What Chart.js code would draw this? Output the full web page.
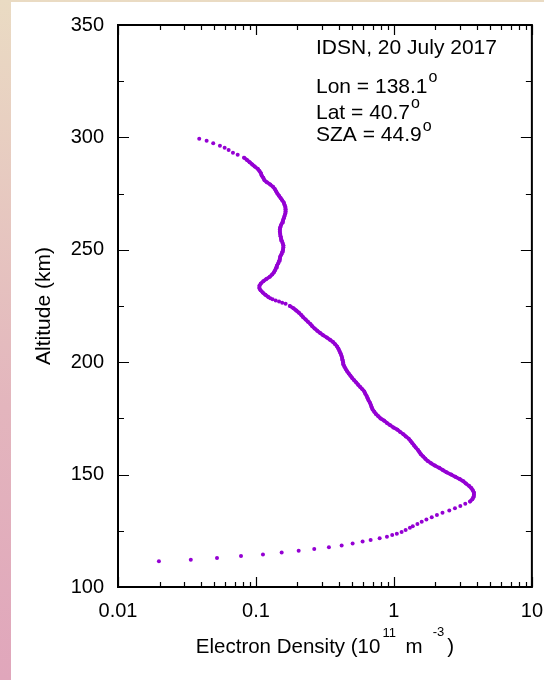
<!DOCTYPE html>
<html>
<head>
<meta charset="utf-8">
<title>Electron density profile</title>
<script src="https://cdn.jsdelivr.net/npm/chart.js@4.4.1/dist/chart.umd.min.js"></script>
<style>
  html, body { margin: 0; padding: 0; }
  body {
    width: 544px; height: 680px; overflow: hidden;
    background: linear-gradient(to bottom, #eadbc3 0%, #e3b5bd 60%, #e0a6bb 100%);
  }
  #panel {
    position: absolute; left: 11px; top: 2px;
    width: 533px; height: 678px; background: #fff;
  }
</style>
</head>
<body>
<div id="panel"><canvas id="profile"></canvas></div>
<script>
// altitude of each sample (km)
const altitudeKm = [
  111.4, 112.1, 112.9, 113.8, 114.5, 115.4, 116.1, 116.9, 117.7, 118.5,
  119.3, 120.2, 120.9, 121.7, 122.4, 123.1, 123.7, 124.5, 125.4, 126.4,
  127, 128, 129, 130, 131, 132, 133, 134, 135, 136, 137, 138, 139, 140,
  141, 142, 143, 144, 145, 146, 147, 148, 149, 150, 151, 152, 153, 154,
  155, 156, 157, 158, 159, 160, 161, 162, 163, 164, 165, 166, 167, 168,
  169, 170, 171, 172, 173, 174, 175, 176, 177, 178, 179, 180, 181, 182,
  183, 184, 185, 186, 187, 188, 189, 190, 191, 192, 193, 194, 195, 196,
  197, 198, 199, 200, 201, 202, 203, 204, 205, 206, 207, 208, 209, 210,
  211, 212, 213, 214, 215, 216, 217, 218, 219, 220, 221, 222, 223, 224,
  225, 226, 226.5, 227, 227.5, 228, 228.5, 229, 230, 231, 232, 233, 234,
  235, 236, 237, 238, 239, 240, 241, 242, 243, 244, 245, 246, 247, 248,
  249, 250, 251, 252, 253, 254, 255, 256, 257, 258, 259, 260, 261, 262,
  263, 264, 265, 266, 267, 268, 269, 270, 271, 272, 273, 274, 275, 276,
  277, 278, 279, 280, 281, 282, 283, 284, 285, 286, 287, 288, 289, 290,
  291, 292.3, 293.2, 294.4, 295.4, 296.3, 297.4, 298.5, 299.4
];

// electron density at each altitude (10^11 m^-3)
const densityE11 = [
  0.0198, 0.0337, 0.0522, 0.0779, 0.1124, 0.1536, 0.204, 0.2646, 0.338, 0.418,
  0.502, 0.593, 0.678, 0.788, 0.890, 0.972, 1.05, 1.137, 1.216, 1.306,
  1.37, 1.48, 1.59, 1.72, 1.88, 2.05, 2.25, 2.52, 2.77, 3.03, 3.29, 3.56, 3.70, 3.77,
  3.80, 3.80, 3.73, 3.64, 3.50, 3.33, 3.19, 3.00, 2.79, 2.60, 2.41, 2.26, 2.13, 1.98,
  1.86, 1.76, 1.69, 1.63, 1.57, 1.53, 1.49, 1.44, 1.40, 1.36, 1.32, 1.28, 1.22, 1.17,
  1.11, 1.06, 0.99, 0.94, 0.89, 0.85, 0.80, 0.77, 0.74, 0.72, 0.70, 0.69, 0.68, 0.67,
  0.655, 0.645, 0.634, 0.62, 0.61, 0.59, 0.57, 0.55, 0.533, 0.515, 0.498, 0.484, 0.47, 0.458,
  0.447, 0.438, 0.431, 0.428, 0.425, 0.421, 0.416, 0.41, 0.403, 0.396, 0.387, 0.375, 0.362, 0.344,
  0.326, 0.307, 0.292, 0.278, 0.266, 0.256, 0.248, 0.238, 0.229, 0.220, 0.213, 0.205, 0.196, 0.187,
  0.176, 0.164, 0.155, 0.147, 0.139, 0.132, 0.127, 0.123, 0.117, 0.112, 0.108, 0.1058, 0.1060,
  0.1085, 0.113, 0.119, 0.126, 0.131, 0.135, 0.138, 0.140, 0.142, 0.145, 0.147, 0.149, 0.150, 0.153,
  0.155, 0.157, 0.158, 0.158, 0.156, 0.154, 0.152, 0.151, 0.150, 0.149, 0.149, 0.150, 0.152, 0.155,
  0.157, 0.159, 0.161, 0.163, 0.164, 0.164, 0.163, 0.161, 0.159, 0.155, 0.151, 0.147, 0.143, 0.140,
  0.137, 0.133, 0.127, 0.120, 0.115, 0.113, 0.110, 0.1087, 0.106, 0.103, 0.098, 0.094, 0.090, 0.086,
  0.082, 0.0737, 0.0681, 0.0634, 0.0593, 0.0548, 0.049, 0.0439, 0.0388
];

// altitude spans where the samples run together into a solid trace (km)
const solidSpans = [[137.5, 225.5], [229, 291.5]];

// axis ticks
const xMajorTicks = [0.01, 0.1, 1, 10];
const yMajorTicks = [100, 150, 200, 250, 300, 350];
const yMinorTicks = [125, 175, 225, 275, 325];

// info box lines: [text, superscript]
const infoTitle = 'IDSN, 20 July 2017';
const infoLines = [['Lon = 138.1', 'o'], ['Lat = 40.7', 'o'], ['SZA = 44.9', 'o']];
const infoBaselines = [29, 67.5, 93.5, 116];

const FONT = '"Liberation Sans", Arial, Helvetica, sans-serif';
const DOT = '#9400d3';

Chart.defaults.font.family = FONT;
Chart.defaults.color = '#000';

// x minor ticks: 2..9 in each decade
const xMinorTicks = [];
for (let i = 0; i < xMajorTicks.length - 1; i++) {
  for (let k = 2; k <= 9; k++) xMinorTicks.push(xMajorTicks[i] * k);
}

const points = altitudeKm.map((h, i) => ({ x: densityE11[i], y: h }));
// one trace per solid span; gaps between spans break the line
const tracePoints = [];
solidSpans.forEach((sp, j) => {
  if (j > 0) tracePoints.push({ x: null, y: null });
  points.forEach(p => { if (p.y >= sp[0] && p.y <= sp[1]) tracePoints.push(p); });
});

// text with raised small parts
function drawRich(ctx, parts, x, baseline, align) {
  const widths = parts.map(p => {
    ctx.font = p.size + 'px ' + FONT;
    return ctx.measureText(p.t).width + (p.gap || 0);
  });
  const total = widths.reduce((s, w) => s + w, 0);
  let cx = align === 'center' ? x - total / 2 : x;
  parts.forEach((p, i) => {
    ctx.font = p.size + 'px ' + FONT;
    ctx.fillText(p.t, cx + (p.gap || 0), baseline - (p.rise || 0));
    cx += widths[i];
  });
}

const frameTicks = {
  id: 'frameTicks',
  afterDatasetsDraw(chart) {
    const { ctx, chartArea: a, scales: { x, y } } = chart;
    ctx.save();
    ctx.strokeStyle = '#000';
    ctx.lineWidth = 1.2;
    ctx.beginPath();
    const yTick = (v, len) => {
      const py = Math.round(y.getPixelForValue(v)) + 0.5;
      ctx.moveTo(a.left, py); ctx.lineTo(a.left + len, py);
      ctx.moveTo(a.right, py); ctx.lineTo(a.right - len, py);
    };
    const xTick = (v, len) => {
      const px = Math.round(x.getPixelForValue(v)) + 0.5;
      ctx.moveTo(px, a.bottom); ctx.lineTo(px, a.bottom - len);
      ctx.moveTo(px, a.top); ctx.lineTo(px, a.top + len);
    };
    yMajorTicks.forEach(v => yTick(v, 11));
    yMinorTicks.forEach(v => yTick(v, 6));
    xMajorTicks.forEach(v => xTick(v, 10));
    xMinorTicks.forEach(v => xTick(v, 5));
    ctx.stroke();

    ctx.lineWidth = 2;
    ctx.strokeRect(a.left, a.top, a.right - a.left, a.bottom - a.top);

    // info box
    ctx.fillStyle = '#000';
    ctx.textBaseline = 'alphabetic';
    const tx = a.left + 198;
    drawRich(ctx, [{ t: infoTitle, size: 21 }], tx, a.top + infoBaselines[0], 'left');
    infoLines.forEach((ln, i) => {
      drawRich(ctx, [
        { t: ln[0], size: 21 },
        { t: ln[1], size: 16, rise: 10.5, gap: 1 }
      ], tx, a.top + infoBaselines[i + 1], 'left');
    });

    // x axis title
    drawRich(ctx, [
      { t: 'Electron Density (10', size: 20.5 },
      { t: '11', size: 13, rise: 16, gap: 2 },
      { t: ' m', size: 20.5, gap: 4 },
      { t: '-3', size: 13, rise: 17, gap: 10 },
      { t: ')', size: 20.5, gap: 3 }
    ], (a.left + a.right) / 2, a.bottom + 66, 'center');
    ctx.restore();
  }
};

new Chart(document.getElementById('profile'), {
  type: 'scatter',
  data: {
    datasets: [{
      data: points,
      backgroundColor: DOT,
      borderWidth: 0,
      pointRadius: 2,
      pointHoverRadius: 2
    }, {
      data: tracePoints,
      showLine: true,
      spanGaps: false,
      borderColor: DOT,
      borderWidth: 3.6,
      borderJoinStyle: 'round',
      borderCapStyle: 'round',
      pointRadius: 0,
      pointHoverRadius: 0
    }]
  },
  options: {
    responsive: true,
    maintainAspectRatio: false,
    animation: false,
    layout: { padding: { top: 23, right: 12, left: 0, bottom: 0 } },
    plugins: { legend: { display: false }, tooltip: { enabled: false } },
    scales: {
      x: {
        type: 'logarithmic',
        min: 0.01, max: 10,
        afterBuildTicks: s => { s.ticks = xMajorTicks.map(v => ({ value: v })); },
        afterFit: s => { s.height = 93; },
        ticks: {
          autoSkip: false, maxRotation: 0,
          padding: 1,
          font: { size: 20 },
          callback: v => String(v)
        },
        // tick marks are drawn inward by the plugin; tickLength only spaces the labels
        grid: { display: false, drawTicks: true, tickLength: 11 },
        border: { display: false }
      },
      y: {
        type: 'linear',
        min: 100, max: 350,
        afterBuildTicks: s => { s.ticks = yMajorTicks.map(v => ({ value: v })); },
        afterFit: s => { s.width = 107; },
        ticks: { padding: 1, font: { size: 20 } },
        grid: { display: false, drawTicks: true, tickLength: 13 },
        border: { display: false },
        title: {
          display: true,
          text: 'Altitude (km)',
          font: { size: 21 },
          padding: { top: 21, bottom: 0 }
        }
      }
    }
  },
  plugins: [frameTicks]
});
</script>
</body>
</html>
